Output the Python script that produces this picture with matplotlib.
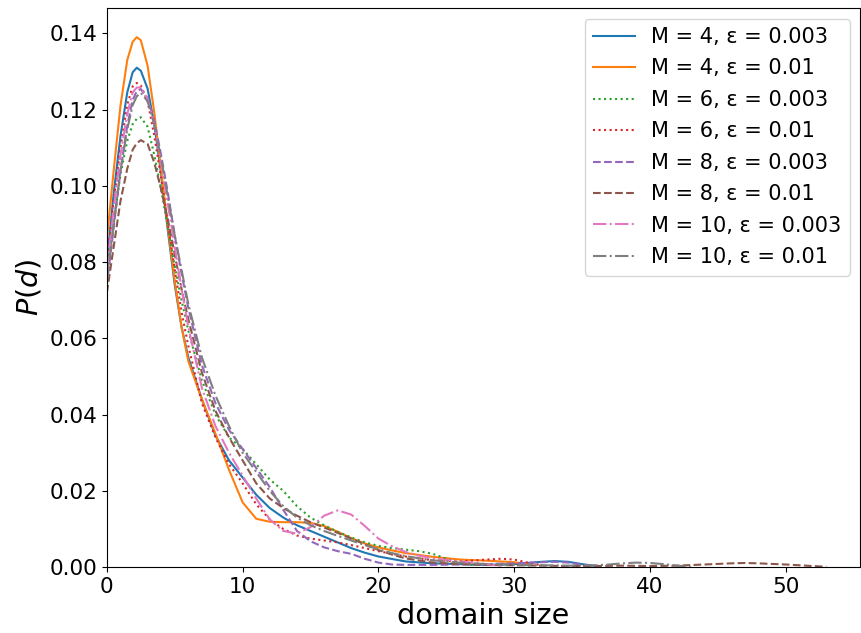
import matplotlib
matplotlib.use("Agg")
import matplotlib.pyplot as plt

# values (domain size -> density)
x_m4_e003 = [0, 0.5, 1, 1.5, 1.9, 2.2, 2.5, 3, 3.5, 4, 4.5, 5, 5.5, 6, 7, 8, 9, 10, 11, 12, 13, 14, 15, 16, 17, 18, 19, 20, 22, 24, 26, 28, 30, 31, 32, 33, 34, 35, 36]
y_m4_e003 = [0.080, 0.098, 0.113, 0.1245, 0.1298, 0.131, 0.1302, 0.1255, 0.116, 0.103, 0.088, 0.074, 0.063, 0.055, 0.044, 0.0345, 0.028, 0.0235, 0.019, 0.0155, 0.013, 0.011, 0.0095, 0.008, 0.0065, 0.005, 0.0038, 0.0028, 0.0015, 0.001, 0.0008, 0.0006, 0.0008, 0.0011, 0.0014, 0.0016, 0.0014, 0.0008, 0.0003]

x_m4_e01 = [0, 0.5, 1, 1.5, 1.9, 2.2, 2.5, 3, 3.5, 4, 4.5, 5, 5.5, 6, 7, 8, 9, 10, 11, 12, 13, 14, 15, 16, 17, 18, 19, 20, 21, 22, 24, 26, 28, 30, 31]
y_m4_e01 = [0.086, 0.104, 0.121, 0.133, 0.1378, 0.139, 0.1382, 0.1315, 0.119, 0.104, 0.089, 0.075, 0.063, 0.054, 0.044, 0.035, 0.0255, 0.017, 0.0127, 0.0119, 0.0118, 0.0118, 0.0116, 0.0108, 0.0093, 0.0076, 0.0062, 0.0052, 0.0044, 0.0037, 0.0027, 0.002, 0.0017, 0.0013, 0.0008]

x_m6_e003 = [0, 0.5, 1, 1.5, 1.9, 2.2, 2.5, 3, 3.5, 4, 4.5, 5, 5.5, 6, 7, 8, 9, 10, 11, 12, 13, 14, 15, 16, 17, 18, 19, 20, 21, 22, 23, 24, 25, 26, 27]
y_m6_e003 = [0.076, 0.090, 0.103, 0.1118, 0.1162, 0.1176, 0.118, 0.1155, 0.108, 0.099, 0.089, 0.079, 0.070, 0.062, 0.049, 0.040, 0.034, 0.031, 0.027, 0.023, 0.020, 0.016, 0.013, 0.011, 0.0093, 0.0078, 0.0065, 0.0056, 0.0050, 0.0046, 0.0042, 0.0035, 0.0022, 0.0012, 0.0005]

x_m6_e01 = [0, 0.5, 1, 1.5, 1.9, 2.2, 2.5, 3, 3.5, 4, 4.5, 5, 5.5, 6, 7, 8, 9, 10, 11, 12, 13, 14, 15, 16, 17, 18, 19, 20, 22, 24, 26, 28, 29, 30, 31, 32]
y_m6_e01 = [0.080, 0.096, 0.110, 0.1213, 0.1261, 0.127, 0.1263, 0.1222, 0.113, 0.102, 0.090, 0.078, 0.067, 0.058, 0.043, 0.034, 0.027, 0.022, 0.0165, 0.0125, 0.010, 0.0083, 0.0075, 0.007, 0.0065, 0.0058, 0.005, 0.0042, 0.0028, 0.0018, 0.0015, 0.002, 0.0022, 0.002, 0.0012, 0.0005]

x_m8_e003 = [0, 0.5, 1, 1.5, 1.9, 2.2, 2.5, 3, 3.5, 4, 4.5, 5, 5.5, 6, 7, 8, 9, 10, 11, 12, 13, 14, 15, 16, 17, 18, 19, 20, 21, 22, 24, 26, 28, 30, 32, 33, 34, 35, 36]
y_m8_e003 = [0.074, 0.089, 0.104, 0.1158, 0.1226, 0.1248, 0.1254, 0.123, 0.117, 0.108, 0.098, 0.087, 0.077, 0.068, 0.053, 0.043, 0.036, 0.031, 0.026, 0.021, 0.015, 0.0095, 0.0068, 0.0052, 0.0042, 0.0035, 0.0022, 0.0012, 0.0007, 0.0006, 0.0006, 0.0007, 0.0008, 0.001, 0.0013, 0.0014, 0.0012, 0.0006, 0.0002]

x_m8_e01 = [0, 0.5, 1, 1.5, 1.9, 2.2, 2.5, 3, 3.5, 4, 4.5, 5, 5.5, 6, 7, 8, 9, 10, 11, 12, 13, 14, 15, 16, 17, 18, 19, 20, 21, 22, 24, 26, 28, 30, 32, 34, 36, 38, 40, 42, 44, 46, 47, 48, 50, 52, 53]
y_m8_e01 = [0.072, 0.084, 0.096, 0.1045, 0.1095, 0.1112, 0.112, 0.111, 0.106, 0.099, 0.091, 0.082, 0.073, 0.065, 0.051, 0.041, 0.034, 0.028, 0.022, 0.018, 0.0155, 0.0135, 0.0118, 0.0104, 0.009, 0.0075, 0.006, 0.0045, 0.0033, 0.0023, 0.0012, 0.0008, 0.0006, 0.0005, 0.0004, 0.0003, 0.0003, 0.0004, 0.0003, 0.0004, 0.0007, 0.001, 0.0011, 0.001, 0.0007, 0.0003, 0.0001]

x_m10_e003 = [0, 0.5, 1, 1.5, 1.9, 2.2, 2.5, 3, 3.5, 4, 4.5, 5, 5.5, 6, 7, 8, 9, 10, 11, 12, 13, 14, 15, 16, 17, 18, 19, 20, 21, 22, 23, 24, 26, 28, 29]
y_m10_e003 = [0.078, 0.094, 0.108, 0.1188, 0.1245, 0.1258, 0.1258, 0.1228, 0.116, 0.106, 0.095, 0.084, 0.073, 0.063, 0.047, 0.037, 0.030, 0.024, 0.018, 0.0125, 0.0095, 0.0088, 0.0105, 0.0135, 0.0149, 0.0138, 0.0108, 0.0075, 0.0055, 0.004, 0.003, 0.0023, 0.0015, 0.0008, 0.0003]

x_m10_e01 = [0, 0.5, 1, 1.5, 1.9, 2.2, 2.5, 3, 3.5, 4, 4.5, 5, 5.5, 6, 7, 8, 9, 10, 11, 12, 13, 14, 15, 16, 17, 18, 19, 20, 21, 22, 24, 26, 28, 30, 32, 34, 36, 37, 38, 39, 40, 41, 42, 43]
y_m10_e01 = [0.075, 0.090, 0.104, 0.1148, 0.1212, 0.1235, 0.1244, 0.1222, 0.116, 0.107, 0.097, 0.087, 0.078, 0.069, 0.055, 0.045, 0.037, 0.030, 0.025, 0.020, 0.016, 0.013, 0.011, 0.0095, 0.0082, 0.007, 0.0058, 0.0047, 0.0037, 0.0029, 0.0018, 0.0012, 0.0008, 0.0006, 0.0005, 0.0004, 0.0005, 0.0007, 0.001, 0.0012, 0.0011, 0.0008, 0.0004, 0.0001]

labels = [
    "M = 4, ε = 0.003",
    "M = 4, ε = 0.01",
    "M = 6, ε = 0.003",
    "M = 6, ε = 0.01",
    "M = 8, ε = 0.003",
    "M = 8, ε = 0.01",
    "M = 10, ε = 0.003",
    "M = 10, ε = 0.01",
]


def main() -> None:
    series = [
        (x_m4_e003, y_m4_e003, "-"),
        (x_m4_e01, y_m4_e01, "-"),
        (x_m6_e003, y_m6_e003, ":"),
        (x_m6_e01, y_m6_e01, ":"),
        (x_m8_e003, y_m8_e003, "--"),
        (x_m8_e01, y_m8_e01, "--"),
        (x_m10_e003, y_m10_e003, "-."),
        (x_m10_e01, y_m10_e01, "-."),
    ]

    fig = plt.figure(figsize=(8.62, 6.33), dpi=100)
    ax = fig.add_axes([0.124, 0.104, 0.874, 0.883])

    for i, ((x, y, ls), label) in enumerate(zip(series, labels)):
        ax.plot(x, y, linestyle=ls, color=f"C{i}", linewidth=1.5, label=label)

    ax.set_xlim(0, 55.5)
    ax.set_ylim(0, 0.1466)
    ax.set_xlabel("domain size", fontsize=20.6)
    ax.set_ylabel("$P(d)$", fontsize=20.6)
    ax.tick_params(labelsize=15.5)
    ax.legend(loc="upper right", fontsize=15, labelspacing=0.55)

    fig.savefig("out.png", dpi=100)
    plt.close(fig)


if __name__ == "__main__":
    main()
